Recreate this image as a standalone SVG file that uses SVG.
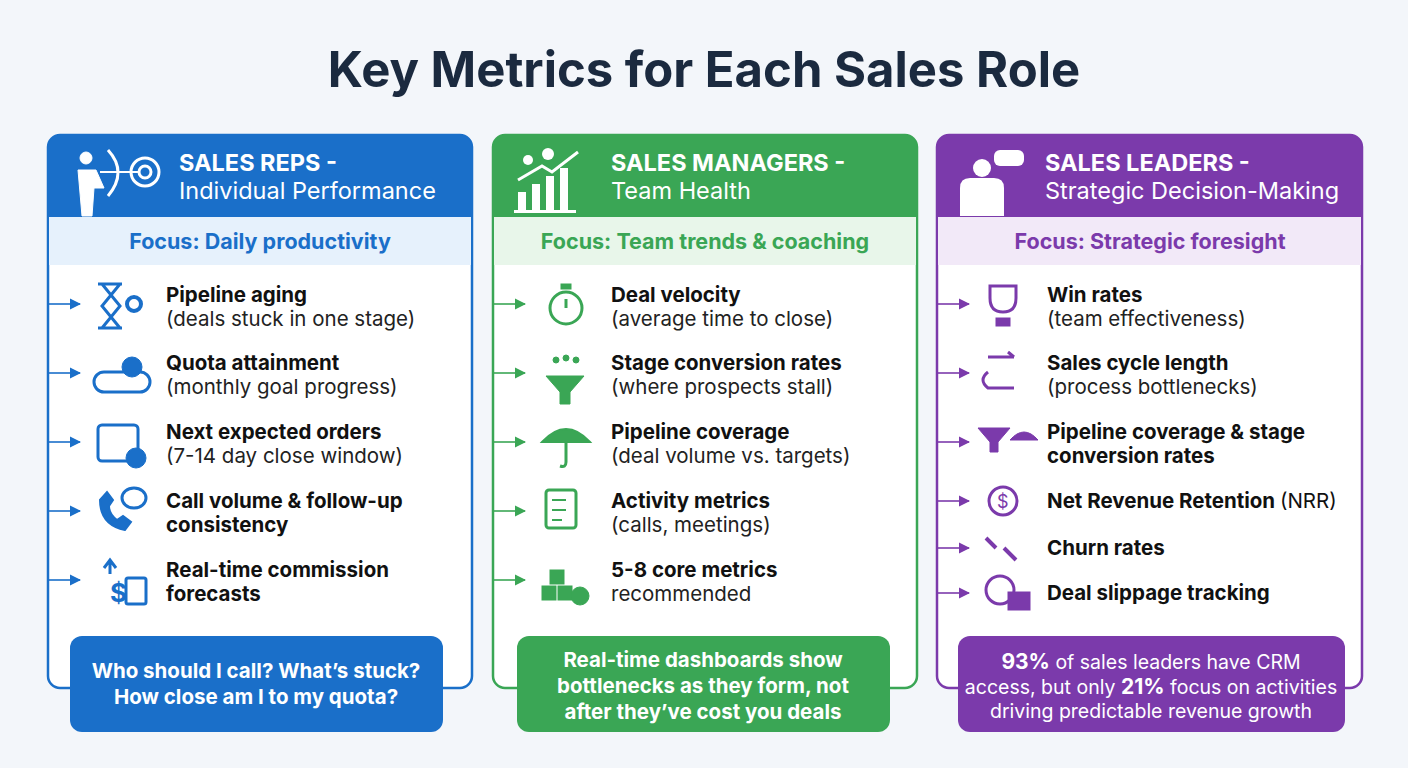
<svg xmlns="http://www.w3.org/2000/svg" width="1408" height="768" viewBox="0 0 1408 768">
<defs>
<style>
.t{font-family:Inter,"Liberation Sans",sans-serif}
.title{font-size:49px;font-weight:700;fill:#1b2a3f}
.h1{font-size:23.5px;font-weight:700;fill:#fff}
.h2{font-size:23.5px;fill:#fff}
.focus{font-size:21.5px;font-weight:700}
.b{font-size:20.5px;font-weight:700;fill:#111}
.n{font-size:20.5px;fill:#222}
.call{font-size:20.5px;font-weight:700;fill:#fff}
.calln{font-size:19.5px;fill:#fff}
.ar{stroke-width:1.6;fill:none}
</style>
<marker id="mb" viewBox="0 0 10 10" refX="9" refY="5" markerWidth="7" markerHeight="7" orient="auto"><path d="M0,0L10,5L0,10z" fill="#1a6fc9"/></marker>
<marker id="mg" viewBox="0 0 10 10" refX="9" refY="5" markerWidth="7" markerHeight="7" orient="auto"><path d="M0,0L10,5L0,10z" fill="#3aa655"/></marker>
<marker id="mp" viewBox="0 0 10 10" refX="9" refY="5" markerWidth="7" markerHeight="7" orient="auto"><path d="M0,0L10,5L0,10z" fill="#7b3aab"/></marker>
</defs>
<rect width="1408" height="768" fill="#f3f6fa"/>
<text class="t title" x="704" y="87" text-anchor="middle">Key Metrics for Each Sales Role</text>

<g id="reps">
<rect x="48" y="135" width="424" height="553" rx="12" fill="#fff" stroke="#1a6fc9" stroke-width="2.5"/>
<path d="M48,147a12,12 0 0 1 12,-12h400a12,12 0 0 1 12,12v70h-424z" fill="#1a6fc9"/>
<rect x="49" y="217" width="422" height="48" fill="#e6f1fc"/>
<g fill="#fff" stroke="#fff"><circle cx="145" cy="172" r="14" fill="none" stroke-width="3"/><circle cx="145" cy="172" r="6" fill="none" stroke-width="3"/><path d="M108,150q20,22 0,46" fill="none" stroke-width="3"/><circle cx="86" cy="158" r="6"/><path d="M78,170h18l8,18h-10l-2,28h-10z"/><line x1="100" y1="172" x2="140" y2="172" stroke-width="2"/></g>
<text class="t h1" x="179" y="171">SALES REPS -</text>
<text class="t h2" x="179" y="199">Individual Performance</text>
<text class="t focus" x="260" y="249" text-anchor="middle" fill="#1a6fc9">Focus: Daily productivity</text>
<g fill="#1a6fc9" stroke="#1a6fc9">
<path d="M98,284h24M98,328h24M102,284l18,22l-18,22M120,284l-18,22l18,22" fill="none" stroke-width="3"/><circle cx="134" cy="304" r="7" fill="none" stroke-width="4"/>
<rect x="94" y="372" width="56" height="20" rx="10" fill="none" stroke-width="3"/><circle cx="132" cy="367" r="10"/>
<rect x="98" y="425" width="40" height="36" rx="4" fill="none" stroke-width="3"/><circle cx="136" cy="458" r="10"/>
<path d="M100,500q0,25 25,30l6,-8l-8,-6l-6,4q-8,-6 -8,-14l4,-6l-6,-8z" stroke-width="2"/><ellipse cx="134" cy="498" rx="12" ry="10" fill="none" stroke-width="3"/>
<text x="110" y="602" font-size="26" font-weight="700" class="t" stroke="none">$</text><rect x="126" y="578" width="20" height="26" rx="2" fill="none" stroke-width="3"/><path d="M110,574v-12m-6,6l6,-8l6,8" fill="none" stroke-width="3"/>
</g>
<text class="t b" x="166" y="302">Pipeline aging</text><text class="t n" x="166" y="326">(deals stuck in one stage)</text>
<text class="t b" x="166" y="370">Quota attainment</text><text class="t n" x="166" y="394">(monthly goal progress)</text>
<text class="t b" x="166" y="439">Next expected orders</text><text class="t n" x="166" y="463">(7-14 day close window)</text>
<text class="t b" x="166" y="508">Call volume &amp; follow-up</text><text class="t b" x="166" y="532">consistency</text>
<text class="t b" x="166" y="577">Real-time commission</text><text class="t b" x="166" y="601">forecasts</text>
<rect x="70" y="636" width="373" height="96" rx="12" fill="#1a6fc9"/>
<text class="t call" x="256" y="678" text-anchor="middle">Who should I call? What’s stuck?</text>
<text class="t call" x="256" y="704" text-anchor="middle">How close am I to my quota?</text>
</g>

<g id="managers">
<rect x="493" y="135" width="424" height="553" rx="12" fill="#fff" stroke="#3aa655" stroke-width="2.5"/>
<path d="M493,147a12,12 0 0 1 12,-12h400a12,12 0 0 1 12,12v70h-424z" fill="#3aa655"/>
<rect x="494" y="217" width="422" height="48" fill="#e8f6ea"/>
<g fill="#fff"><rect x="518" y="192" width="8" height="18"/><rect x="532" y="184" width="8" height="26"/><rect x="546" y="176" width="8" height="34"/><rect x="560" y="168" width="8" height="42"/><rect x="514" y="210" width="62" height="3"/><path d="M518,180l24,-14l10,6l26,-20" stroke="#fff" stroke-width="3" fill="none"/><circle cx="528" cy="160" r="5"/><circle cx="548" cy="154" r="6"/></g>
<text class="t h1" x="611" y="171">SALES MANAGERS -</text>
<text class="t h2" x="611" y="199">Team Health</text>
<text class="t focus" x="705" y="249" text-anchor="middle" fill="#3aa655">Focus: Team trends &amp; coaching</text>
<g fill="#3aa655" stroke="#3aa655">
<circle cx="566" cy="308" r="16" fill="none" stroke-width="3"/><path d="M566,308v-9" stroke-width="3"/><rect x="561" y="284" width="10" height="5"/>
<path d="M546,376h38l-14,16v12h-10v-12z" stroke-width="1"/><circle cx="566" cy="358" r="3"/><circle cx="556" cy="360" r="3"/><circle cx="576" cy="360" r="3"/>
<path d="M542,442q24,-26 48,0z" stroke-width="2"/><path d="M566,442v20q0,6 -6,4" fill="none" stroke-width="3"/>
<rect x="546" y="490" width="30" height="38" rx="3" fill="none" stroke-width="3"/><path d="M552,500h14M552,510h14M552,520h10" stroke-width="2"/>
<rect x="542" y="586" width="14" height="14"/><rect x="558" y="586" width="14" height="14"/><rect x="550" y="570" width="14" height="14"/><circle cx="580" cy="596" r="9" fill="#3aa655"/>
</g>
<text class="t b" x="611" y="302">Deal velocity</text><text class="t n" x="611" y="326">(average time to close)</text>
<text class="t b" x="611" y="370">Stage conversion rates</text><text class="t n" x="611" y="394">(where prospects stall)</text>
<text class="t b" x="611" y="439">Pipeline coverage</text><text class="t n" x="611" y="463">(deal volume vs. targets)</text>
<text class="t b" x="611" y="508">Activity metrics</text><text class="t n" x="611" y="532">(calls, meetings)</text>
<text class="t b" x="611" y="577">5-8 core metrics</text><text class="t n" x="611" y="601">recommended</text>
<rect x="517" y="636" width="373" height="96" rx="12" fill="#3aa655"/>
<text class="t call" x="703" y="667" text-anchor="middle">Real-time dashboards show</text>
<text class="t call" x="703" y="693" text-anchor="middle">bottlenecks as they form, not</text>
<text class="t call" x="703" y="719" text-anchor="middle">after they’ve cost you deals</text>
</g>

<g id="leaders">
<rect x="937" y="135" width="425" height="553" rx="12" fill="#fff" stroke="#7b3aab" stroke-width="2.5"/>
<path d="M937,147a12,12 0 0 1 12,-12h401a12,12 0 0 1 12,12v70h-425z" fill="#7b3aab"/>
<rect x="938" y="217" width="423" height="48" fill="#f2e9f8"/>
<g fill="#fff"><circle cx="982" cy="168" r="9"/><path d="M960,216v-28q0,-10 10,-10h24q10,0 10,10v28z"/><rect x="994" y="150" width="30" height="16" rx="6"/></g>
<text class="t h1" x="1045" y="171">SALES LEADERS -</text>
<text class="t h2" x="1045" y="199">Strategic Decision-Making</text>
<text class="t focus" x="1150" y="249" text-anchor="middle" fill="#7b3aab">Focus: Strategic foresight</text>
<g fill="#7b3aab" stroke="#7b3aab">
<path d="M990,286h26v12q0,14 -13,14q-13,0 -13,-14z" fill="none" stroke-width="3"/><rect x="996" y="318" width="14" height="8"/>
<path d="M988,357h26M1014,357l-6,-5M988,372q-10,8 0,16h26" fill="none" stroke-width="3"/>
<path d="M978,428h32l-12,14v10h-8v-10z"/><path d="M1010,440q14,-16 28,0z"/>
<circle cx="1003" cy="501" r="14" fill="none" stroke-width="3"/><text x="997" y="508" font-size="18" class="t" stroke="none">$</text>
<path d="M986,538l10,10M1004,548l12,12" stroke-width="4"/>
<circle cx="1000" cy="590" r="14" fill="none" stroke-width="3"/><rect x="1008" y="592" width="22" height="18"/>
</g>
<text class="t b" x="1047" y="302">Win rates</text><text class="t n" x="1047" y="326">(team effectiveness)</text>
<text class="t b" x="1047" y="370">Sales cycle length</text><text class="t n" x="1047" y="394">(process bottlenecks)</text>
<text class="t b" x="1047" y="439">Pipeline coverage &amp; stage</text><text class="t b" x="1047" y="463">conversion rates</text>
<text class="t b" x="1047" y="508">Net Revenue Retention <tspan font-weight="400">(NRR)</tspan></text>
<text class="t b" x="1047" y="555">Churn rates</text>
<text class="t b" x="1047" y="600">Deal slippage tracking</text>
<rect x="958" y="636" width="387" height="96" rx="12" fill="#7b3aab"/>
<text class="t calln" x="1151" y="669" text-anchor="middle"><tspan font-weight="700" font-size="21">93%</tspan> of sales leaders have CRM</text>
<text class="t calln" x="1151" y="694" text-anchor="middle">access, but only <tspan font-weight="700" font-size="21">21%</tspan> focus on activities</text>
<text class="t calln" x="1151" y="718" text-anchor="middle">driving predictable revenue growth</text>
</g>

<g id="connectors">
<g stroke="#1a6fc9" class="ar"><path d="M48,304h32" marker-end="url(#mb)"/><path d="M48,373h32" marker-end="url(#mb)"/><path d="M48,442h32" marker-end="url(#mb)"/><path d="M48,511h32" marker-end="url(#mb)"/><path d="M48,580h32" marker-end="url(#mb)"/></g>
<g stroke="#3aa655" class="ar"><path d="M493,304h32" marker-end="url(#mg)"/><path d="M493,373h32" marker-end="url(#mg)"/><path d="M493,442h32" marker-end="url(#mg)"/><path d="M493,511h32" marker-end="url(#mg)"/><path d="M493,580h32" marker-end="url(#mg)"/></g>
<g stroke="#7b3aab" class="ar"><path d="M937,304h32" marker-end="url(#mp)"/><path d="M937,373h32" marker-end="url(#mp)"/><path d="M937,442h32" marker-end="url(#mp)"/><path d="M937,501h32" marker-end="url(#mp)"/><path d="M937,548h32" marker-end="url(#mp)"/><path d="M937,593h32" marker-end="url(#mp)"/></g>
</g>
</svg>
